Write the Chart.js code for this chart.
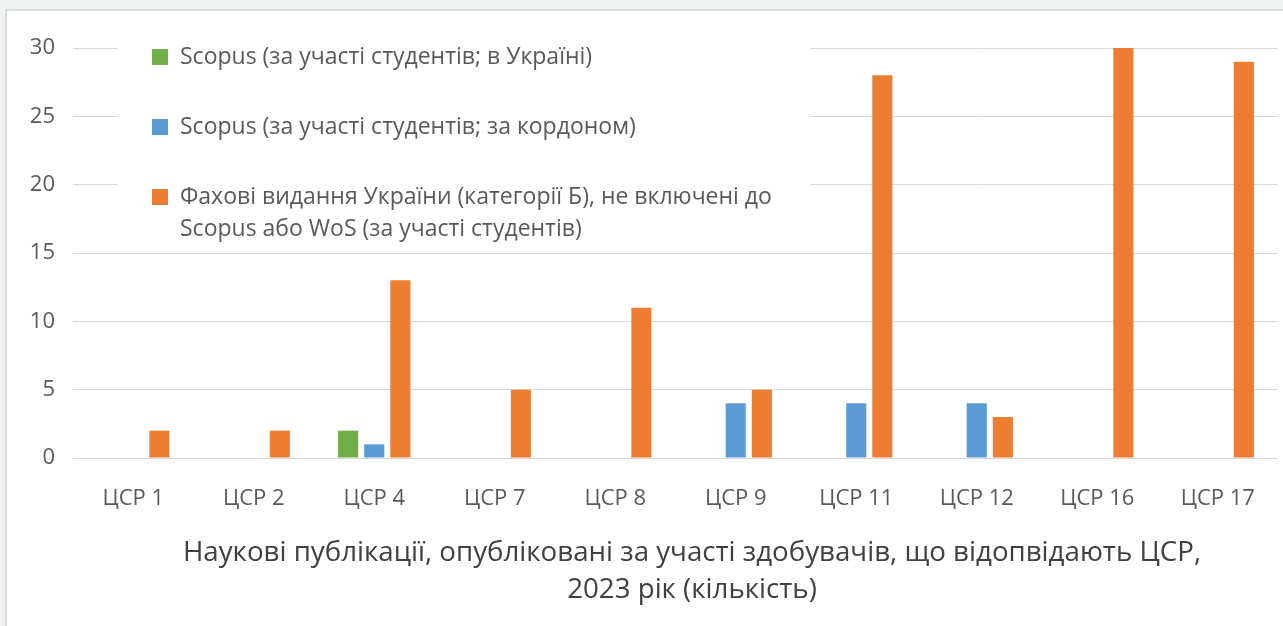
<!DOCTYPE html>
<html lang="uk">
<head>
<meta charset="utf-8">
<title>Наукові публікації за ЦСР, 2023</title>
<script src="https://cdn.jsdelivr.net/npm/chart.js@4/dist/chart.umd.min.js"></script>
<style>
  html, body { margin: 0; padding: 0; background: #eff3f1; overflow: hidden; }
  .frame { position: absolute; left: 5px; top: 9px; width: 1300px; height: 640px;
           background: #fff; border-top: 2px solid #d9dcdb; border-left: 2px solid #d9dcdb; }
  #chart { position: absolute; left: 0; top: 0; }
</style>
</head>
<body>
<div class="frame"></div>
<canvas id="chart" width="1283" height="626"></canvas>
<script>
// categories and series
const categories = ["ЦСР 1", "ЦСР 2", "ЦСР 4", "ЦСР 7", "ЦСР 8", "ЦСР 9", "ЦСР 11", "ЦСР 12", "ЦСР 16", "ЦСР 17"];
const scopusUkraine = [0, 0, 2, 0, 0, 0, 0, 0, 0, 0];
const scopusAbroad  = [0, 0, 1, 0, 0, 4, 4, 4, 0, 0];
const fakhoviB      = [2, 2, 13, 5, 11, 5, 28, 3, 30, 29];
const seriesNames = [
  "Scopus (за участі студентів; в Україні)",
  "Scopus (за участі студентів; за кордоном)",
  "Фахові видання України (категорії Б), не включені до\nScopus або WoS (за участі студентів)"
];
const seriesColors = ["#70ad47", "#5b9bd5", "#ed7d31"];
const yTicks = [0, 5, 10, 15, 20, 25, 30];
const titleLines = ["Наукові публікації, опубліковані за участі здобувачів, що відопвідають ЦСР,", "2023 рік (кількість)"];

const FONT = "'Open Sans', 'Noto Sans', sans-serif";
const TEXT = "#595959";

// legend sits inside the plot on a white panel
const boxLegend = {
  id: "boxLegend",
  afterDraw(chart) {
    const ctx = chart.ctx;
    ctx.save();
    ctx.fillStyle = "#fff";
    ctx.fillRect(118, 28, 692, 218);
    ctx.font = "23px " + FONT;
    ctx.textBaseline = "middle";
    const rows = [57, 127, 197];
    chart.data.datasets.forEach((ds, i) => {
      const y = rows[i];
      ctx.fillStyle = ds.backgroundColor;
      ctx.fillRect(152, y - 8, 16, 16);
      ctx.fillStyle = TEXT;
      ds.label.split("\n").forEach((line, k) => ctx.fillText(line, 180, y + k * 32));
    });
    ctx.restore();
  }
};

// two-line caption under the category axis
const caption = {
  id: "caption",
  afterDraw(chart) {
    const ctx = chart.ctx;
    ctx.save();
    ctx.font = "27.7px " + FONT;
    ctx.fillStyle = "#404040";
    ctx.textAlign = "center";
    ctx.textBaseline = "middle";
    titleLines.forEach((t, i) => ctx.fillText(t, 692, 553 + i * 37));
    ctx.restore();
  }
};

new Chart(document.getElementById("chart"), {
  type: "bar",
  data: {
    labels: categories,
    datasets: [scopusUkraine, scopusAbroad, fakhoviB].map((values, i) => ({
      label: seriesNames[i],
      data: values,
      backgroundColor: seriesColors[i],
      categoryPercentage: 0.65,
      barPercentage: 0.77,
    })),
  },
  options: {
    responsive: false,
    devicePixelRatio: 1,
    animation: false,
    layout: { padding: { top: 48, right: 5, left: 0, bottom: 0 } },
    plugins: { legend: { display: false }, tooltip: { enabled: false } },
    scales: {
      x: {
        grid: { display: false },
        border: { display: false },
        ticks: { color: TEXT, font: { family: FONT, size: 22 }, padding: 20 },
        afterFit: s => { s.height = 168; },
      },
      y: {
        min: 0, max: 30,
        afterBuildTicks: s => { s.ticks = yTicks.map(v => ({ value: v })); },
        grid: { color: "#d9d9d9", lineWidth: 1, drawTicks: false },
        border: { display: false },
        ticks: { color: TEXT, font: { family: FONT, size: 22 }, padding: 18 },
        afterFit: s => { s.width = 73; },
      },
    },
  },
  plugins: [boxLegend, caption],
});
</script>
</body>
</html>
